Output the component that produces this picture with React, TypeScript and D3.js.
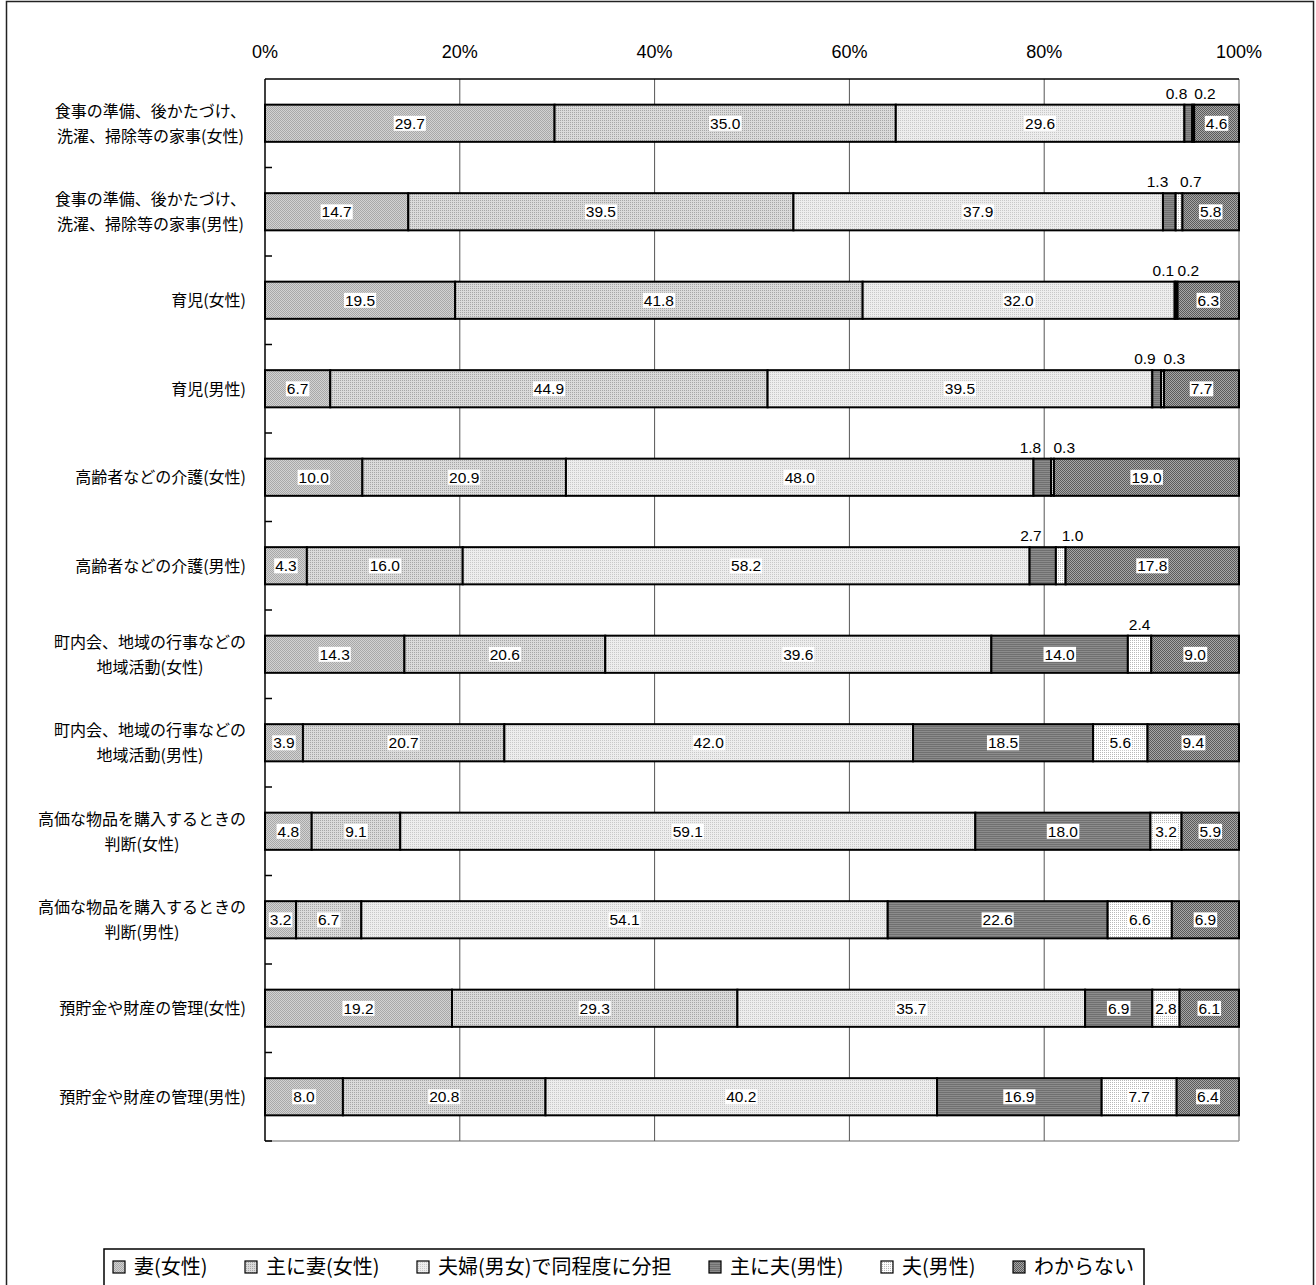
import React, {useRef, useEffect} from 'react';
import * as d3 from 'd3';

// 設問(行)
const categories = [
    '食事の準備、後かたづけ、\n洗濯、掃除等の家事(女性)',
    '食事の準備、後かたづけ、\n洗濯、掃除等の家事(男性)',
    '育児(女性)',
    '育児(男性)',
    '高齢者などの介護(女性)',
    '高齢者などの介護(男性)',
    '町内会、地域の行事などの\n地域活動(女性)',
    '町内会、地域の行事などの\n地域活動(男性)',
    '高価な物品を購入するときの\n判断(女性)',
    '高価な物品を購入するときの\n判断(男性)',
    '預貯金や財産の管理(女性)',
    '預貯金や財産の管理(男性)',
];

const seriesNames = ['妻(女性)', '主に妻(女性)', '夫婦(男女)で同程度に分担', '主に夫(男性)', '夫(男性)', 'わからない'];

const wife = [29.7, 14.7, 19.5, 6.7, 10.0, 4.3, 14.3, 3.9, 4.8, 3.2, 19.2, 8.0];
const mainlyWife = [35.0, 39.5, 41.8, 44.9, 20.9, 16.0, 20.6, 20.7, 9.1, 6.7, 29.3, 20.8];
const both = [29.6, 37.9, 32.0, 39.5, 48.0, 58.2, 39.6, 42.0, 59.1, 54.1, 35.7, 40.2];
const mainlyHusband = [0.8, 1.3, 0.1, 0.9, 1.8, 2.7, 14.0, 18.5, 18.0, 22.6, 6.9, 16.9];
const husband = [0.2, 0.7, 0.2, 0.3, 0.3, 1.0, 2.4, 5.6, 3.2, 6.6, 2.8, 7.7];
const unknown = [4.6, 5.8, 6.3, 7.7, 19.0, 17.8, 9.0, 9.4, 5.9, 6.9, 6.1, 6.4];

const xTicks = [0, 20, 40, 60, 80, 100];

const W = 1316;
const H = 1285;
const NUM_FONT = '"Liberation Sans", Arial, sans-serif';
const JP_FONT = '"Noto Sans CJK JP", "Noto Sans", sans-serif';

const App: React.FC = () => {
    const svgRef = useRef<SVGSVGElement>(null);

    useEffect(() => {
        if (!svgRef.current) return;
        const svg = d3.select(svgRef.current);
        svg.selectAll('*').remove();

        const left = 265, right = 1239, top = 79, bottom = 1141;

        const x = d3.scaleLinear().domain([0, 1]).range([left, right]);
        const y = d3.scaleBand<number>()
            .domain(d3.range(categories.length))
            .range([top, bottom])
            .paddingInner(0.58)
            .paddingOuter(0.29);

        const rows = categories.map((c, i) => ({
            idx: i,
            s0: wife[i], s1: mainlyWife[i], s2: both[i], s3: mainlyHusband[i], s4: husband[i], s5: unknown[i],
        }));
        const keys = ['s0', 's1', 's2', 's3', 's4', 's5'];
        const stacked = d3.stack<any>().keys(keys).offset(d3.stackOffsetExpand)(rows);

        // パターン
        const defs = svg.append('defs');
        const makePattern = (id: string, size: number, bg: string, cells: [number, number, number, number, string][]) => {
            const p = defs.append('pattern')
                .attr('id', id)
                .attr('width', size)
                .attr('height', size)
                .attr('patternUnits', 'userSpaceOnUse');
            p.append('rect').attr('width', size).attr('height', size).attr('fill', bg);
            cells.forEach(([cx, cy, cw, ch, col]) => {
                p.append('rect').attr('x', cx).attr('y', cy).attr('width', cw).attr('height', ch).attr('fill', col);
            });
        };
        makePattern('pat0', 2, '#d2d2d2', [[0, 0, 1, 1, '#a8a8a8'], [1, 1, 1, 1, '#a8a8a8']]);
        makePattern('pat1', 2, '#dadada', [[0, 0, 1, 1, '#a6a6a6']]);
        makePattern('pat2', 2, '#ededed', [[0, 0, 1, 1, '#c8c8c8']]);
        makePattern('pat3', 2, '#8c8c8c', [[0, 0, 2, 1, '#707070']]);
        makePattern('pat4', 2, '#ffffff', [[0, 0, 1, 1, '#b8b8b8']]);
        makePattern('pat5', 2, '#a6a6a6', [[0, 0, 1, 1, '#5a5a5a'], [1, 1, 1, 1, '#5a5a5a']]);

        // 外枠
        svg.append('rect')
            .attr('x', 6.5).attr('y', 1.5)
            .attr('width', 1313 - 6).attr('height', H + 10)
            .attr('fill', 'white')
            .attr('stroke', '#222')
            .attr('stroke-width', 1.5);

        // プロットエリア枠 (右・下 グレー)
        svg.append('line')
            .attr('x1', right).attr('x2', right).attr('y1', top).attr('y2', bottom)
            .attr('stroke', '#999').attr('stroke-width', 1.5);
        svg.append('line')
            .attr('x1', left).attr('x2', right).attr('y1', bottom).attr('y2', bottom)
            .attr('stroke', '#999').attr('stroke-width', 1.5);

        // グリッド線
        svg.append('g')
            .selectAll('line')
            .data(xTicks.filter(t => t > 0 && t < 100))
            .join('line')
            .attr('x1', d => x(d / 100)).attr('x2', d => x(d / 100))
            .attr('y1', top).attr('y2', bottom)
            .attr('stroke', '#555').attr('stroke-width', 1);

        // 上軸
        svg.append('line')
            .attr('x1', left).attr('x2', right).attr('y1', top).attr('y2', top)
            .attr('stroke', '#000').attr('stroke-width', 1.5);
        svg.append('g')
            .selectAll('text')
            .data(xTicks)
            .join('text')
            .attr('x', d => x(d / 100))
            .attr('y', 58)
            .attr('text-anchor', 'middle')
            .style('font-family', NUM_FONT)
            .style('font-size', '18px')
            .style('fill', '#000')
            .text(d => `${d}%`);

        // 左軸
        svg.append('line')
            .attr('x1', left).attr('x2', left).attr('y1', top).attr('y2', bottom)
            .attr('stroke', '#000').attr('stroke-width', 1.5);
        const step = y.step();
        svg.append('g')
            .selectAll('line')
            .data(d3.range(1, categories.length + 1))
            .join('line')
            .attr('x1', left).attr('x2', left + 7)
            .attr('y1', k => top + step * k).attr('y2', k => top + step * k)
            .attr('stroke', '#000').attr('stroke-width', 1.5);

        // 棒
        const barG = svg.append('g');
        stacked.forEach((layer, si) => {
            barG.append('g')
                .selectAll('rect')
                .data(layer)
                .join('rect')
                .attr('x', d => x(d[0]))
                .attr('y', d => y((d.data as any).idx)!)
                .attr('width', d => x(d[1]) - x(d[0]))
                .attr('height', y.bandwidth())
                .attr('fill', `url(#pat${si})`)
                .attr('stroke', '#000')
                .attr('stroke-width', 2);
        });

        // ラベル
        const labelG = svg.append('g');
        const valuesBySeries = [wife, mainlyWife, both, mainlyHusband, husband, unknown];
        categories.forEach((c, i) => {
            const aboveIdx = valuesBySeries
                .map((vals, si) => (vals[i] < 2.75 ? si : -1))
                .filter(si => si >= 0);
            stacked.forEach((layer, si) => {
                const d = layer[i];
                const v = valuesBySeries[si][i];
                const cx = (x(d[0]) + x(d[1])) / 2;
                const by = y(i)!;
                const txt = v.toFixed(1);
                if (v < 2.75) {
                    let anchor = 'middle';
                    let tx = cx;
                    if (aboveIdx.length > 1) {
                        if (si === aboveIdx[0]) { anchor = 'end'; tx = cx - 1; }
                        else { anchor = 'start'; tx = cx + 1; }
                    }
                    labelG.append('text')
                        .attr('x', tx)
                        .attr('y', by - 6)
                        .attr('text-anchor', anchor)
                        .style('font-family', NUM_FONT)
                        .style('font-size', '15.5px')
                        .style('fill', '#000')
                        .text(txt);
                } else {
                    const t = labelG.append('text')
                        .attr('x', cx)
                        .attr('y', by + y.bandwidth() / 2)
                        .attr('dy', '0.36em')
                        .attr('text-anchor', 'middle')
                        .style('font-family', NUM_FONT)
                        .style('font-size', '15.5px')
                        .style('fill', '#000')
                        .text(txt);
                    const bb = (t.node() as SVGTextElement).getBBox();
                    labelG.insert('rect', () => t.node())
                        .attr('x', bb.x - 1)
                        .attr('y', bb.y + 1)
                        .attr('width', bb.width + 2)
                        .attr('height', bb.height - 2)
                        .attr('fill', 'white');
                }
            });
        });

        // カテゴリ名
        const catG = svg.append('g');
        const labelRight = 246;
        categories.forEach((c, i) => {
            const lines = c.split('\n');
            const cy = y(i)! + y.bandwidth() / 2;
            const lh = 25;
            const texts = lines.map((ln, li) => catG.append('text')
                .attr('y', cy + (li - (lines.length - 1) / 2) * lh)
                .attr('dy', '0.36em')
                .style('font-family', JP_FONT)
                .style('font-size', '16px')
                .style('fill', '#000')
                .text(ln));
            const widths = texts.map(t => (t.node() as SVGTextElement).getComputedTextLength());
            const maxW = Math.max(...widths);
            texts.forEach(t => t.attr('x', labelRight - maxW / 2).attr('text-anchor', 'middle'));
        });

        // 凡例
        const legX0 = 104, legX1 = 1144, legY = 1249;
        svg.append('rect')
            .attr('x', legX0).attr('y', legY)
            .attr('width', legX1 - legX0).attr('height', 60)
            .attr('fill', 'white').attr('stroke', '#000').attr('stroke-width', 1.5);
        const legG = svg.append('g');
        const sw = 12, gapT = 9;
        const legTexts = seriesNames.map(n => legG.append('text')
            .attr('y', 1267)
            .attr('dy', '0.36em')
            .style('font-family', JP_FONT)
            .style('font-size', '20px')
            .style('fill', '#000')
            .text(n));
        const lw = legTexts.map(t => (t.node() as SVGTextElement).getComputedTextLength());
        const startX = 113, endX = 1134;
        const totalItems = d3.sum(lw) + seriesNames.length * (sw + gapT);
        const gap = (endX - startX - totalItems) / (seriesNames.length - 1);
        let cur = startX;
        seriesNames.forEach((n, si) => {
            legG.append('rect')
                .attr('x', cur).attr('y', 1267 - sw / 2)
                .attr('width', sw).attr('height', sw)
                .attr('fill', `url(#pat${si})`)
                .attr('stroke', '#000').attr('stroke-width', 1.2);
            legTexts[si].attr('x', cur + sw + gapT);
            cur += sw + gapT + lw[si] + gap;
        });
    }, []);

    return (
        <div style={{position: 'absolute', left: 0, top: 0}}>
            <svg ref={svgRef} width={W} height={H} viewBox={`0 0 ${W} ${H}`} style={{display: 'block', background: 'white'}}/>
        </div>
    );
};

export default App;
